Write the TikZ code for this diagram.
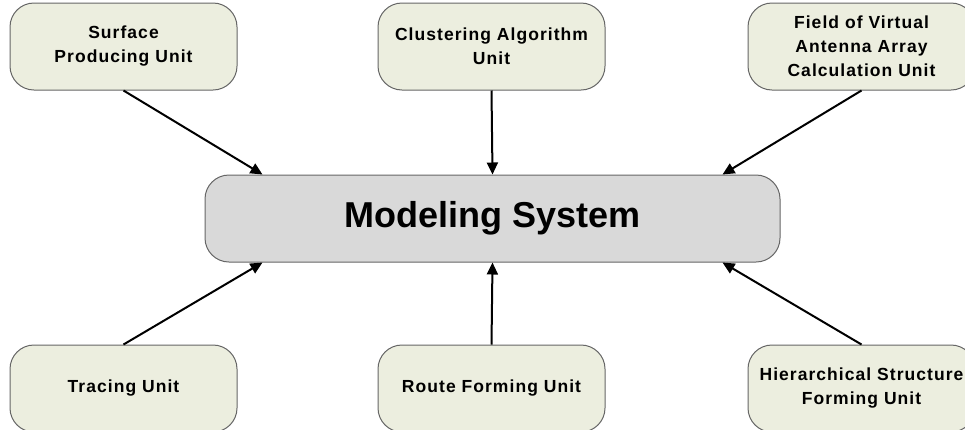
\documentclass[tikz,border=0pt]{standalone}
\usepackage{fontspec}
\setmainfont{Liberation Sans}
\newfontfamily\unitfont[LetterSpace=6]{Liberation Sans}
\usetikzlibrary{arrows.meta}
\definecolor{unitfill}{HTML}{ECEEDF}
\definecolor{mainfill}{HTML}{D9D9D9}
\definecolor{edgegray}{HTML}{666666}
\tikzset{
  unitbox/.style={draw=edgegray, line width=1pt, fill=unitfill, rounded corners=24pt,
    minimum width=227pt, minimum height=87pt, inner sep=0pt, align=center,
    font=\unitfont\fontsize{17.5}{24}\selectfont\bfseries},
  mainbox/.style={draw=edgegray, line width=1pt, fill=mainfill, rounded corners=24pt,
    minimum width=575pt, minimum height=87pt, inner sep=0pt, align=center,
    font=\fontsize{36}{40}\selectfont\bfseries},
  arr/.style={line width=2pt, -{Triangle[length=12pt,width=11pt]}}
}
\begin{document}
\begin{tikzpicture}[x=1pt,y=-1pt]
\useasboundingbox (0,0) rectangle (965,429);
\clip (0,0) rectangle (965,429);
\fill[white] (0,0) rectangle (965,429);
\node[mainbox] (main) at (492.5,218.5) {Modeling System};
\node[unitbox] (tl) at (123.5,46.5) {Surface\\Producing Unit};
\node[unitbox] (tm) at (491.5,46.5) {Clustering Algorithm\\Unit};
\node[unitbox] (tr) at (861.5,46.5) {Field of Virtual\\Antenna Array\\Calculation Unit};
\node[unitbox] (bl) at (123.5,388.5) {Tracing Unit};
\node[unitbox] (bm) at (491.5,388.5) {Route Forming Unit};
\node[unitbox] (br) at (861.5,388.5) {Hierarchical Structure\\Forming Unit};
\draw[arr] (tl.south) -- ([xshift=58pt]main.north west);
\draw[arr] (tm.south) -- (main.north);
\draw[arr] (tr.south) -- ([xshift=-58pt]main.north east);
\draw[arr] (bl.north) -- ([xshift=58pt]main.south west);
\draw[arr] (bm.north) -- (main.south);
\draw[arr] (br.north) -- ([xshift=-58pt]main.south east);
\end{tikzpicture}
\end{document}
